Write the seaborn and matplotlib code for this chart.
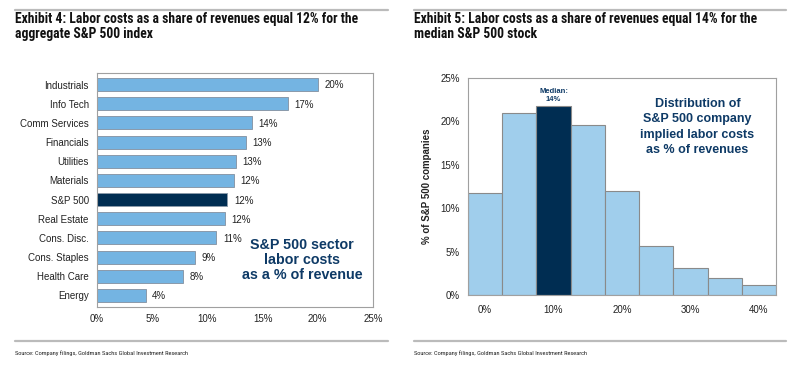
import matplotlib
matplotlib.use("Agg")
import matplotlib.pyplot as plt
import seaborn as sns
import pandas as pd
from matplotlib.lines import Line2D
from matplotlib import font_manager

sectors = ["Industrials", "Info Tech", "Comm Services", "Financials", "Utilities",
           "Materials", "S&P 500", "Real Estate", "Cons. Disc.", "Cons. Staples",
           "Health Care", "Energy"]
sector_values = [20.0, 17.3, 14.0, 13.5, 12.6, 12.4, 11.8, 11.6, 10.8, 8.9, 7.8, 4.4]
sector_labels = ["20%", "17%", "14%", "13%", "13%", "12%", "12%", "12%", "11%", "9%", "8%", "4%"]
x_ticks_left = [0, 5, 10, 15, 20, 25]

bins = ["0%", "5%", "10%", "15%", "20%", "25%", "30%", "35%", "40%"]
bin_values = [11.8, 21.0, 21.8, 19.6, 12.0, 5.7, 3.1, 2.0, 1.2]
y_ticks_right = [0, 5, 10, 15, 20, 25]

sns.set_theme(style="white")
plt.rcParams['font.family'] = ['Liberation Sans', 'DejaVu Sans']

names = {f.name for f in font_manager.fontManager.ttflist}
narrow = None
for cand in ["Liberation Sans Narrow", "Roboto Condensed", "Open Sans Condensed", "DejaVu Sans Condensed"]:
    if cand in names:
        narrow = cand
        break
if narrow is not None:
    cond = [narrow, 'Liberation Sans', 'DejaVu Sans']
    title_fs, src_fs = 9.85, 4.6
else:
    cond = ['Liberation Sans', 'DejaVu Sans']
    title_fs, src_fs = 8.3, 4.0

NAVY = "#002D52"
LIGHT = "#74B4E2"
LIGHT2 = "#A0CEEC"
TXT_NAVY = "#0E3A66"
GREY = "#A0A0A0"

fig = plt.figure(figsize=(8.1, 3.71), dpi=100)

for x0, x1 in [(15, 388), (414, 786)]:
    fig.add_artist(Line2D([x0/810, x1/810], [1-10/371]*2, color="#BBBBBB", lw=1.6))
    fig.add_artist(Line2D([x0/810, x1/810], [1-341/371]*2, color="#BBBBBB", lw=1.6))
fig.text(15/810, 1-12/371, "Exhibit 4: Labor costs as a share of revenues equal 12% for the\naggregate S&P 500 index",
         ha="left", va="top", fontsize=title_fs, fontweight="bold", family=cond, color="#111111", linespacing=1.12)
fig.text(414/810, 1-12/371, "Exhibit 5: Labor costs as a share of revenues equal 14% for the\nmedian S&P 500 stock",
         ha="left", va="top", fontsize=title_fs, fontweight="bold", family=cond, color="#111111", linespacing=1.12)
fig.text(15/810, 1-353/371, "Source: Company filings, Goldman Sachs Global Investment Research",
         ha="left", va="center", fontsize=src_fs, family=cond, color="#222222")
fig.text(414/810, 1-353/371, "Source: Company filings, Goldman Sachs Global Investment Research",
         ha="left", va="center", fontsize=src_fs, family=cond, color="#222222")

# Left chart
ax1 = fig.add_axes([97/810, 1-307/371, 276/810, 234/371])
df1 = pd.DataFrame({"sector": sectors, "value": sector_values})
pal1 = {s: (NAVY if s == "S&P 500" else LIGHT) for s in sectors}
sns.barplot(data=df1, y="sector", x="value", hue="sector", palette=pal1, legend=False,
            orient="h", width=0.68, edgecolor="#8A9AAA", linewidth=0.7, ax=ax1, saturation=1)
for i, (v, lab) in enumerate(zip(sector_values, sector_labels)):
    ax1.text(v + 0.6, i + 0.05, lab, va="center", ha="left", fontsize=7, color="#222222")
ax1.set_xlim(0, 25)
ax1.set_ylim(11.6, -0.6)
ax1.set_xticks(x_ticks_left)
ax1.set_xticklabels([f"{t}%" for t in x_ticks_left], fontsize=7, color="#222222")
ax1.tick_params(axis="y", labelsize=7, colors="#222222", length=0, pad=6)
ax1.tick_params(axis="x", length=0, pad=5)
ax1.set_yticks(range(len(sectors)))
ax1.set_yticklabels(sectors)
ax1.set_yticks([i + 0.5 for i in range(-1, len(sectors))], minor=True)
ax1.tick_params(axis="y", which="minor", length=3, color=GREY, direction="out")
ax1.set_xlabel("")
ax1.set_ylabel("")
for s in ax1.spines.values():
    s.set_color(GREY)
    s.set_linewidth(0.8)
ax1.text(0.743, 0.20, "S&P 500 sector\nlabor costs\nas a % of revenue", transform=ax1.transAxes,
         ha="center", va="center", fontsize=10.3, fontweight="bold", color=TXT_NAVY, linespacing=1.1)

# Right chart
ax2 = fig.add_axes([468/810, 1-295/371, 308/810, 217/371])
df2 = pd.DataFrame({"bin": bins, "value": bin_values})
pal2 = {b: (NAVY if b == "10%" else LIGHT2) for b in bins}
sns.barplot(data=df2, x="bin", y="value", hue="bin", palette=pal2, legend=False,
            width=1.0, edgecolor="#8A8A8A", linewidth=0.8, ax=ax2, saturation=1)
ax2.set_xlim(-0.5, len(bins) - 0.5)
ax2.set_ylim(0, 25)
ax2.set_yticks(y_ticks_right)
ax2.set_yticklabels([f"{t}%" for t in y_ticks_right], fontsize=7, color="#222222")
ax2.set_xticks(range(len(bins)))
ax2.set_xticklabels([b if i % 2 == 0 else "" for i, b in enumerate(bins)], fontsize=7, color="#222222")
ax2.tick_params(axis="x", length=0, pad=7)
ax2.set_xticks([i - 0.5 for i in range(len(bins) + 1)], minor=True)
ax2.tick_params(axis="x", which="minor", length=3, color=GREY, direction="out")
ax2.tick_params(axis="y", length=3, color=GREY, direction="out", pad=3)
ax2.set_xlabel("")
ax2.set_ylabel("% of S&P 500 companies", fontsize=7, fontweight="bold", color="#222222", labelpad=6)
for s in ax2.spines.values():
    s.set_color(GREY)
    s.set_linewidth(0.8)
ax2.text(2, bin_values[2] + 0.35, "Median:\n14%", ha="center", va="bottom", fontsize=5.5,
         fontweight="bold", color=TXT_NAVY, linespacing=1.05)
ax2.text(0.745, 0.774, "Distribution of\nS&P 500 company\nimplied labor costs\nas % of revenues",
         transform=ax2.transAxes, ha="center", va="center", fontsize=9.0, fontweight="bold",
         color=TXT_NAVY, linespacing=1.38)

fig.savefig("out.png", dpi=100)
